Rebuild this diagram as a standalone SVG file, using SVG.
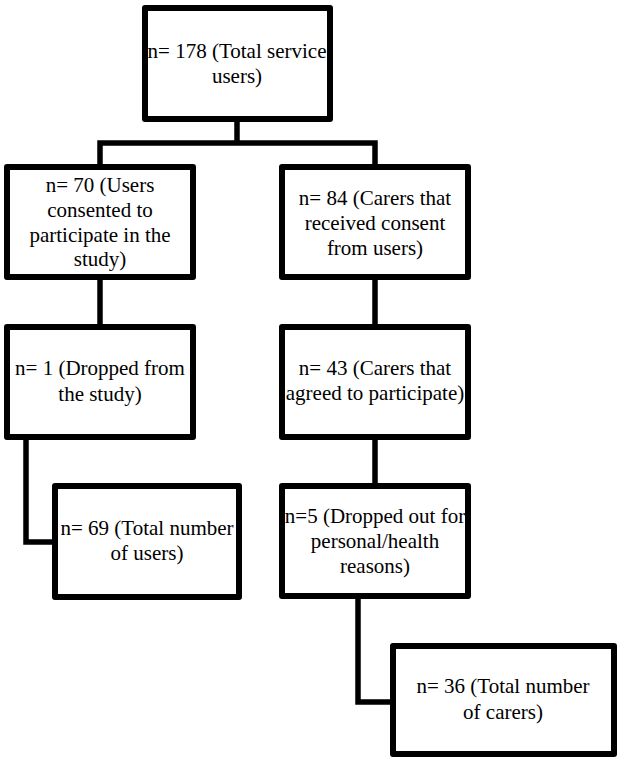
<svg xmlns="http://www.w3.org/2000/svg" width="624" height="765" viewBox="0 0 624 765" font-family="Liberation Serif, DejaVu Serif, serif">
<style>
.box{fill:#fff;stroke:#000;stroke-width:6;stroke-linejoin:round}
.con{fill:none;stroke:#000;stroke-width:5.5;stroke-linejoin:miter}
.t{font-size:21px;fill:#000;text-anchor:middle}
</style>
<rect width="624" height="765" fill="#fff"/>
<g id="connectors">
<path class="con" d="M237 122V143M100 165V143H375V165"/>
<path class="con" d="M100 280V324"/>
<path class="con" d="M375 280V324"/>
<path class="con" d="M26 440V542H52"/>
<path class="con" d="M375 440V483"/>
<path class="con" d="M358 599V702H390"/>
</g>
<g id="n178" font-family="Liberation Serif, serif">
<rect class="box" x="145" y="8" width="185" height="111"/>
<text class="t" font-family="Liberation Serif" x="237" y="58">n= 178 (Total service</text>
<text class="t" font-family="Liberation Serif" x="237" y="83">users)</text>
</g>
<g id="n70" font-family="Liberation Serif, serif">
<rect class="box" x="7" y="167" width="186" height="110"/>
<text class="t" font-family="Liberation Serif" x="100" y="192">n= 70 (Users</text>
<text class="t" font-family="Liberation Serif" x="100" y="217">consented to</text>
<text class="t" font-family="Liberation Serif" x="100" y="242">participate in the</text>
<text class="t" font-family="Liberation Serif" x="100" y="266">study)</text>
</g>
<g id="n84" font-family="Liberation Serif, serif">
<rect class="box" x="282" y="167" width="186" height="110"/>
<text class="t" font-family="Liberation Serif" x="375" y="205">n= 84 (Carers that</text>
<text class="t" font-family="Liberation Serif" x="375" y="230">received consent</text>
<text class="t" font-family="Liberation Serif" x="375" y="255">from users)</text>
</g>
<g id="n1" font-family="Liberation Serif, serif">
<rect class="box" x="7" y="327" width="186" height="110"/>
<text class="t" font-family="Liberation Serif" x="100" y="375">n= 1 (Dropped from</text>
<text class="t" font-family="Liberation Serif" x="100" y="401">the study)</text>
</g>
<g id="n43" font-family="Liberation Serif, serif">
<rect class="box" x="282" y="327" width="186" height="110"/>
<text class="t" font-family="Liberation Serif" x="375" y="375">n= 43 (Carers that</text>
<text class="t" font-family="Liberation Serif" x="375" y="400">agreed to participate)</text>
</g>
<g id="n69" font-family="Liberation Serif, serif">
<rect class="box" x="55" y="486" width="184" height="111"/>
<text class="t" font-family="Liberation Serif" x="147" y="535">n= 69 (Total number</text>
<text class="t" font-family="Liberation Serif" x="147" y="560">of users)</text>
</g>
<g id="n5" font-family="Liberation Serif, serif">
<rect class="box" x="282" y="486" width="186" height="110"/>
<text class="t" font-family="Liberation Serif" x="375" y="523">n=5 (Dropped out for</text>
<text class="t" font-family="Liberation Serif" x="375" y="548">personal/health</text>
<text class="t" font-family="Liberation Serif" x="375" y="573">reasons)</text>
</g>
<g id="n36" font-family="Liberation Serif, serif">
<rect class="box" x="393" y="646" width="221" height="108"/>
<text class="t" font-family="Liberation Serif" x="503" y="693">n= 36 (Total number</text>
<text class="t" font-family="Liberation Serif" x="503" y="719">of carers)</text>
</g>
</svg>
